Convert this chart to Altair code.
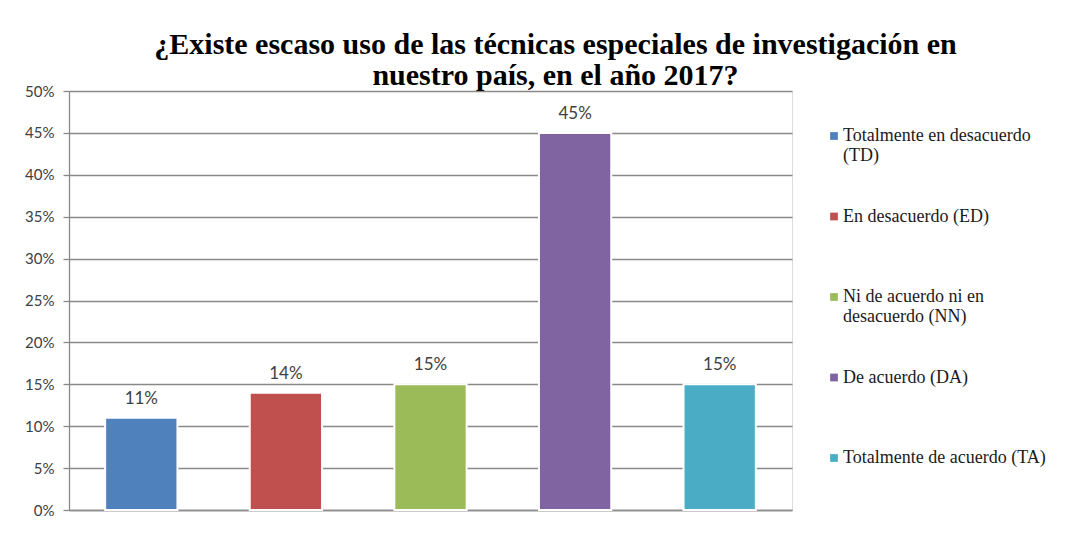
import altair as alt
import pandas as pd

categories = [
    "Totalmente en desacuerdo (TD)",
    "En desacuerdo (ED)",
    "Ni de acuerdo ni en desacuerdo (NN)",
    "De acuerdo (DA)",
    "Totalmente de acuerdo (TA)",
]
legend_lines = [
    ["Totalmente en desacuerdo", "(TD)"],
    ["En desacuerdo (ED)"],
    ["Ni de acuerdo ni en", "desacuerdo (NN)"],
    ["De acuerdo (DA)"],
    ["Totalmente de acuerdo (TA)"],
]
values = [0.11, 0.14, 0.15, 0.45, 0.15]
colors = ["#4F81BD", "#C0504D", "#9BBB59", "#8064A2", "#4BACC6"]
title_lines = [
    "¿Existe escaso uso de las técnicas especiales de investigación en",
    "nuestro país, en el año 2017?",
]

df = pd.DataFrame({"cat": categories, "val": values})

# multi-line legend labels (all padded to two lines so rows are equal)
expr = "datum.label"
for cat, lines in reversed(list(zip(categories, legend_lines))):
    block = lines + [""] * (2 - len(lines))
    arr = "[" + ",".join("'" + l + "'" for l in block) + "]"
    expr = f"datum.label == '{cat}' ? {arr} : ({expr})"

x = alt.X("cat:N", sort=categories, title=None,
          scale=alt.Scale(paddingInner=0.5, paddingOuter=0.25),
          axis=alt.Axis(labels=False, ticks=False, domain=True, domainColor="#8c8c8c",
                        domainWidth=1.5, grid=False))
y = alt.Y("val:Q", title=None,
          scale=alt.Scale(domain=[0, 0.5]),
          axis=alt.Axis(format=".0%", values=[i / 100 for i in range(0, 51, 5)],
                        grid=True, gridColor="#898989", gridWidth=1.3,
                        domain=True, domainColor="#898989", domainWidth=1.3,
                        tickColor="#898989", tickSize=6, tickWidth=1.3,
                        labelFont="Lato", labelFontSize=15, labelColor="#404040",
                        labelPadding=9))

bars = alt.Chart(df).mark_bar(stroke="white", strokeWidth=2).encode(
    x=x, y=y,
    color=alt.Color("cat:N", sort=categories,
                    scale=alt.Scale(domain=categories, range=colors),
                    legend=alt.Legend(title=None, orient="none", legendX=756, legendY=36,
                                      symbolType="square", symbolSize=60,
                                      symbolStrokeWidth=0,
                                      labelFont="Liberation Serif", labelFontSize=18,
                                      labelColor="#1a1a1a", labelLimit=400,
                                      labelBaseline="middle", labelOffset=0,
                                      labelExpr=expr, rowPadding=42.5,
                                      gridAlign="all")),
)

labels = alt.Chart(df).mark_text(baseline="bottom", dy=-10, font="Lato", fontSize=17,
                                 color="#404040").encode(
    x=alt.X("cat:N", sort=categories),
    y="val:Q",
    text=alt.Text("val:Q", format=".0%"),
)

chart = (bars + labels).properties(
    width=723, height=419,
    autosize=alt.AutoSizeParams(type="none"),
    padding={"left": 61, "top": 83, "right": 286, "bottom": 15},
    title=alt.Title(title_lines, font="Liberation Serif", fontSize=30, fontWeight="bold",
                    color="#000000", anchor="middle", dx=125, offset=-7, lineHeight=31),
).configure_view(fill="#f2f2f2", stroke=None).configure(background="white")

chart.save("out.html", embed_options={"renderer": "svg", "actions": False})
